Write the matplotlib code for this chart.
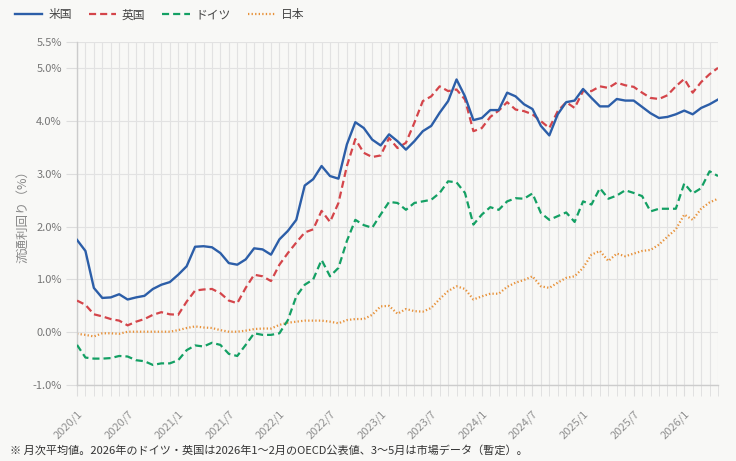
import matplotlib
matplotlib.use("Agg")
import matplotlib.pyplot as plt
import numpy as np

plt.rcParams['font.family'] = ['Noto Sans CJK JP', 'DejaVu Sans']

# Months 2020/1 .. 2026/5
months = [f"{2020 + k // 12}/{k % 12 + 1}" for k in range(77)]

us = [1.75, 1.54, 0.84, 0.65, 0.66, 0.72, 0.62, 0.66, 0.69, 0.82, 0.90, 0.95,
      1.09, 1.25, 1.62, 1.63, 1.61, 1.50, 1.31, 1.28, 1.38, 1.59, 1.57, 1.47,
      1.76, 1.92, 2.13, 2.78, 2.90, 3.15, 2.96, 2.91, 3.56, 3.98, 3.87, 3.65,
      3.54, 3.75, 3.62, 3.46, 3.62, 3.81, 3.91, 4.16, 4.38, 4.79, 4.47, 4.02,
      4.06, 4.21, 4.21, 4.54, 4.47, 4.32, 4.23, 3.91, 3.73, 4.13, 4.36, 4.39,
      4.61, 4.44, 4.28, 4.28, 4.42, 4.39, 4.39, 4.27, 4.15, 4.06, 4.08, 4.13,
      4.20, 4.13, 4.25, 4.32, 4.41]

uk = [0.60, 0.52, 0.34, 0.30, 0.25, 0.22, 0.13, 0.20, 0.25, 0.33, 0.38, 0.34,
      0.33, 0.58, 0.79, 0.81, 0.82, 0.74, 0.60, 0.55, 0.84, 1.09, 1.06, 0.97,
      1.28, 1.50, 1.70, 1.89, 1.95, 2.30, 2.09, 2.45, 3.15, 3.66, 3.40, 3.32,
      3.35, 3.68, 3.49, 3.59, 3.97, 4.38, 4.47, 4.66, 4.57, 4.60, 4.41, 3.81,
      3.87, 4.08, 4.20, 4.36, 4.22, 4.19, 4.13, 4.00, 3.87, 4.19, 4.36, 4.25,
      4.57, 4.57, 4.66, 4.63, 4.73, 4.68, 4.65, 4.54, 4.44, 4.42, 4.49, 4.66,
      4.80, 4.54, 4.74, 4.89, 5.01]

de = [-0.24, -0.48, -0.50, -0.50, -0.49, -0.45, -0.46, -0.53, -0.55, -0.62, -0.59, -0.59,
      -0.53, -0.34, -0.25, -0.27, -0.20, -0.24, -0.41, -0.45, -0.24, -0.02, -0.05, -0.05,
      -0.02, 0.23, 0.68, 0.90, 1.00, 1.37, 1.06, 1.22, 1.73, 2.13, 2.03, 1.98,
      2.23, 2.47, 2.45, 2.32, 2.45, 2.48, 2.51, 2.64, 2.86, 2.84, 2.64, 2.04,
      2.23, 2.37, 2.32, 2.48, 2.54, 2.53, 2.63, 2.26, 2.13, 2.20, 2.27, 2.09,
      2.48, 2.42, 2.73, 2.53, 2.59, 2.69, 2.64, 2.58, 2.29, 2.34, 2.34, 2.34,
      2.82, 2.63, 2.73, 3.05, 2.96]

jp = [-0.03, -0.05, -0.08, -0.02, -0.02, -0.03, 0.01, 0.01, 0.01, 0.01, 0.01, 0.01,
      0.04, 0.08, 0.11, 0.09, 0.08, 0.04, 0.01, 0.01, 0.03, 0.06, 0.07, 0.07,
      0.14, 0.18, 0.20, 0.22, 0.22, 0.22, 0.20, 0.17, 0.23, 0.25, 0.25, 0.33,
      0.49, 0.50, 0.35, 0.44, 0.40, 0.39, 0.46, 0.63, 0.78, 0.87, 0.82, 0.62,
      0.68, 0.73, 0.73, 0.86, 0.94, 0.99, 1.06, 0.87, 0.84, 0.94, 1.03, 1.06,
      1.22, 1.47, 1.54, 1.35, 1.49, 1.44, 1.49, 1.54, 1.56, 1.66, 1.81, 1.95,
      2.23, 2.13, 2.34, 2.46, 2.53]

series_names = ["米国", "英国", "ドイツ", "日本"]
yticks = [-1.0, 0.0, 1.0, 2.0, 3.0, 4.0, 5.0, 5.5]

bg = "#f8f8f6"
fig = plt.figure(figsize=(7.36, 4.61), dpi=100, facecolor=bg)
ax = fig.add_axes([77/736, 1 - 385/461, (718 - 77)/736, (385 - 42)/461])
ax.set_facecolor(bg)

x = np.arange(len(months))
ax.plot(x, us, color="#2c5ea8", lw=1.7, label=series_names[0], zorder=5)
ax.plot(x, uk, color="#d4454a", lw=1.6, ls=(0, (3.2, 1.8)), label=series_names[1], zorder=4)
ax.plot(x, de, color="#14a064", lw=1.6, ls=(0, (3.2, 1.8)), label=series_names[2], zorder=3)
ax.plot(x, jp, color="#e8923a", lw=1.6, ls=(0, (0.6, 1.0)), label=series_names[3], zorder=2)

ax.set_xlim(0, 76)
ax.set_ylim(-1.0, 5.5)
ax.set_yticks(yticks)
ax.set_yticklabels([f"{v:.1f}%" for v in yticks], fontsize=8, color="#777777")
ax.set_xticks(x, minor=True)
major = list(range(0, 77, 6))
ax.set_xticks(major)
ax.set_xticklabels([months[i] for i in major], rotation=45, ha="right",
                   rotation_mode="anchor", fontsize=8, color="#909090")
ax.tick_params(axis="x", which="both", length=8, color="#dddddd", pad=9)
ax.tick_params(axis="y", length=8, color="#dddddd", pad=3)
ax.grid(True, which="both", axis="x", color="#e2e2e2", lw=0.8)
ax.grid(True, which="major", axis="y", color="#e2e2e2", lw=0.8)
ax.set_axisbelow(True)
for s in ["top", "right"]:
    ax.spines[s].set_visible(False)
for s in ["left", "bottom"]:
    ax.spines[s].set_color("#cccccc")
    ax.spines[s].set_linewidth(1.0)

ax.set_ylabel("流通利回り（%）", fontsize=9, color="#888888", labelpad=2)

leg = fig.legend(loc="upper left", bbox_to_anchor=(0.006, 1.005), ncol=4, frameon=False,
                 fontsize=8.5, handlelength=2.3, columnspacing=1.45, handletextpad=0.5)
for t in leg.get_texts():
    t.set_color("#444444")

fig.text(10/736, 1 - 450/461, "※ 月次平均値。2026年のドイツ・英国は2026年1〜2月のOECD公表値、3〜5月は市場データ（暫定）。",
         fontsize=8, color="#333333", va="center", ha="left")

fig.savefig("out.png", dpi=100, facecolor=bg)
